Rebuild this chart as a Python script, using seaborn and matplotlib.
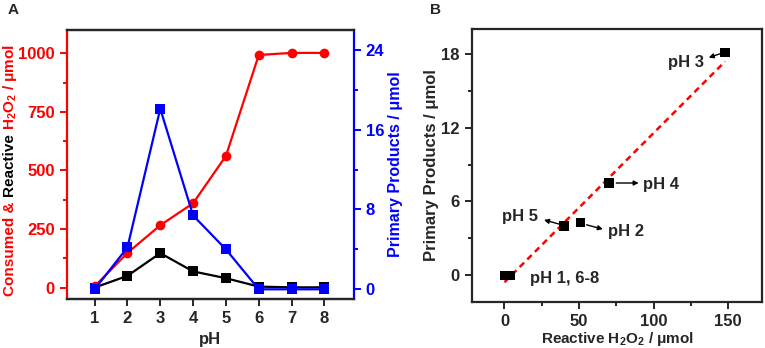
import numpy as np
import pandas as pd
import matplotlib
matplotlib.use('Agg')
import matplotlib.pyplot as plt
from matplotlib.ticker import MultipleLocator
import seaborn as sns

# ---- data ----
ph = [1, 2, 3, 4, 5, 6, 7, 8]
consumed_h2o2 = [5, 148, 266, 360, 562, 993, 1002, 1002]
reactive_h2o2 = [0, 50, 147, 69, 40, 4, 1, 1]
primary_products = [0.0, 4.2, 18.1, 7.4, 4.0, 0.0, 0.0, 0.0]

# panel B: reactive H2O2 vs primary products (pH 1..8)
b_reactive = [0, 51, 148, 70, 40, 4, 2, 2]
b_products = [0.0, 4.3, 18.1, 7.5, 4.0, 0.0, 0.0, 0.0]

sns.set_style('ticks')
plt.rcParams['font.family'] = ['Liberation Sans', 'DejaVu Sans']
plt.rcParams['font.weight'] = 'bold'
plt.rcParams['axes.labelweight'] = 'bold'
plt.rcParams['mathtext.fontset'] = 'custom'
plt.rcParams['mathtext.rm'] = 'Liberation Sans:bold'
plt.rcParams['mathtext.it'] = 'Liberation Sans:bold'
plt.rcParams['mathtext.bf'] = 'Liberation Sans:bold'
plt.rcParams['mathtext.default'] = 'rm'

RED = '#ff0000'
BLUE = '#0000ff'

df = pd.DataFrame({'pH': ph, 'consumed': consumed_h2o2,
                   'reactive': reactive_h2o2, 'products': primary_products})

fig = plt.figure(figsize=(7.65, 3.48), dpi=100)
axA = fig.add_axes([0.0872, 0.140, 0.3755, 0.774])
axB = fig.add_axes([0.6166, 0.133, 0.380, 0.783])

# ---------------- panel A ----------------
sns.lineplot(data=df, x='pH', y='reactive', ax=axA, color='black', marker='s',
             markersize=6.5, markeredgewidth=0, linewidth=1.6)
sns.lineplot(data=df, x='pH', y='consumed', ax=axA, color=RED, marker='o',
             markersize=7, markeredgewidth=0, linewidth=1.6)
axA.set_xlim(0.15, 8.9)
axA.set_ylim(-50, 1100)
axA.set_xticks(ph)
axA.yaxis.set_major_locator(MultipleLocator(250))
axA.yaxis.set_minor_locator(MultipleLocator(125))
axA.set_xlabel('pH', fontsize=12, labelpad=4)
axA.set_ylabel('')

ax2 = axA.twinx()
sns.lineplot(data=df, x='pH', y='products', ax=ax2, color=BLUE, marker='s',
             markersize=6.5, markeredgewidth=0, linewidth=1.6)
ax2.set_ylim(-1.0, 26.0)
ax2.yaxis.set_major_locator(MultipleLocator(8))
ax2.yaxis.set_minor_locator(MultipleLocator(4))
ax2.set_ylabel('Primary Products / μmol', color=BLUE, fontsize=11.5, labelpad=3)

for ax in (axA, ax2):
    for s in ax.spines.values():
        s.set_linewidth(1.6)
axA.spines['left'].set_color(RED)
axA.spines['right'].set_visible(False)
ax2.spines['left'].set_visible(False)
ax2.spines['right'].set_color(BLUE)
axA.tick_params(axis='y', which='both', colors=RED, direction='out', width=1.4)
axA.tick_params(axis='y', which='major', length=5, labelsize=12)
axA.tick_params(axis='y', which='minor', length=3)
axA.tick_params(axis='x', direction='out', length=5, width=1.4, labelsize=12)
ax2.tick_params(axis='y', which='both', colors=BLUE, direction='out', width=1.4)
ax2.tick_params(axis='y', which='major', length=5, labelsize=12)
ax2.tick_params(axis='y', which='minor', length=3)
for lab in axA.get_xticklabels() + axA.get_yticklabels() + ax2.get_yticklabels():
    lab.set_fontweight('bold')

# ---------------- panel B ----------------
sns.regplot(x=b_reactive, y=b_products, ax=axB, scatter=False, ci=None,
            line_kws=dict(color=RED, linestyle=(0, (2.5, 1.8)), linewidth=1.8))
sns.scatterplot(x=b_reactive, y=b_products, ax=axB, color='black', marker='s',
                s=45, edgecolor='none', zorder=3)
axB.set_xlim(-22, 173)
axB.set_ylim(-2.15, 20.0)
axB.xaxis.set_major_locator(MultipleLocator(50))
axB.xaxis.set_minor_locator(MultipleLocator(25))
axB.yaxis.set_major_locator(MultipleLocator(6))
axB.yaxis.set_minor_locator(MultipleLocator(3))
for s in axB.spines.values():
    s.set_linewidth(1.6)
    s.set_visible(True)
axB.tick_params(which='both', direction='out', width=1.4, top=False, right=False)
axB.tick_params(which='major', length=5, labelsize=12)
axB.tick_params(which='minor', length=3)
for lab in axB.get_xticklabels() + axB.get_yticklabels():
    lab.set_fontweight('bold')
axB.set_xlabel('Reactive H$_2$O$_2$ / μmol', fontsize=11, labelpad=1)
axB.set_ylabel('Primary Products / μmol', fontsize=12, labelpad=2)

arrow = dict(arrowstyle='-|>', color='black', lw=1.0, mutation_scale=7,
             shrinkA=0, shrinkB=0)
annots = [('pH 3', (147, 18.1), (137, 17.7), (122, 17.3), 'center'),
          ('pH 4', (75, 7.5), (90, 7.5), (105, 7.4), 'center'),
          ('pH 5', (37, 4.15), (26.5, 4.5), (10.5, 4.8), 'center'),
          ('pH 2', (55, 4.1), (66, 3.75), (81.5, 3.55), 'center'),
          ('pH 1, 6-8', None, None, (17, -0.3), 'left')]
for txt, start, end, pos, ha in annots:
    if start is not None:
        axB.annotate('', xy=end, xytext=start, arrowprops=arrow)
    axB.text(pos[0], pos[1], txt, fontsize=12, fontweight='bold',
             ha=ha, va='center')

# panel letters
fig.text(0.010, 0.972, 'A', fontsize=11, fontweight='bold', va='center')
fig.text(0.562, 0.972, 'B', fontsize=11, fontweight='bold', va='center')

# multicolour left label of panel A
fig.canvas.draw()
renderer = fig.canvas.get_renderer()
parts = [('Consumed & ', RED), ('Reactive ', 'black'),
         ('H$_2$O$_2$ / μmol', RED)]
y = 52.0 / 348
x = 10.0 / 765
for s, c in parts:
    t = fig.text(x, y, s, rotation=90, color=c, fontsize=11, fontweight='bold',
                 ha='center', va='bottom')
    bb = t.get_window_extent(renderer)
    y += bb.height / fig.bbox.height

fig.savefig('out.png', dpi=100)
